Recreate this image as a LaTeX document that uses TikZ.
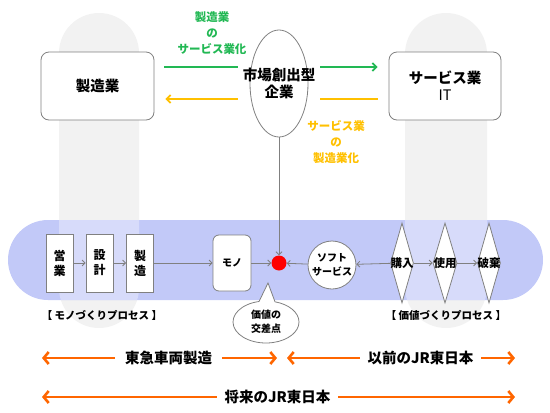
\documentclass[tikz,border=0pt]{standalone}
\usepackage{fontspec}
\setmainfont{Noto Sans CJK JP}
\usepackage{tikz}
\usetikzlibrary{shapes.geometric,shapes.callouts,arrows.meta}
\definecolor{bandblue}{RGB}{194,201,248}
\definecolor{pillargray}{RGB}{242,242,242}
\definecolor{linegray}{RGB}{128,128,128}
\definecolor{grn}{RGB}{34,184,84}
\definecolor{ylw}{RGB}{255,192,0}
\definecolor{orng}{RGB}{255,102,0}

\begin{document}
\begin{tikzpicture}[x=1pt,y=-1pt,
	box/.style={draw=linegray,fill=white,line width=0.8pt,inner sep=0pt},
	tbig/.style={font=\bfseries\fontsize{14.5}{17}\selectfont,align=center},
	tmid/.style={font=\bfseries\fontsize{12}{15}\selectfont,align=center},
	tsmall/.style={font=\bfseries\fontsize{10}{14}\selectfont,align=center},
	gline/.style={draw=linegray,line width=0.8pt,>={Straight Barb[length=3pt,width=6pt]}},
	oline/.style={draw=orng,line width=2.6pt,>={Straight Barb[length=5pt,width=12pt]}}]
	\useasboundingbox (0,0) rectangle (550,413);
	%\draw[help lines,step=50] (0,0) grid (550,413);

	% pillars and band
	\fill[pillargray,rounded corners=40pt] (59,13) rectangle (139,328);
	\fill[pillargray,rounded corners=41pt] (405,13) rectangle (487,328);
	\fill[bandblue,rounded corners=40pt] (8,220) rectangle (543,300);
	\begin{scope}
		\clip[rounded corners=40pt] (8,220) rectangle (543,300);
		\fill[white,opacity=0.35,rounded corners=40pt] (59,13) rectangle (139,328);
		\fill[white,opacity=0.35,rounded corners=41pt] (405,13) rectangle (487,328);
	\end{scope}

	% upper part
	\node[box,rounded corners=8pt,minimum width=113pt,minimum height=68pt,tbig] (mfg) at (97.5,86) {製造業};
	\node[box,rounded corners=8pt,minimum width=112pt,minimum height=68pt,tbig] (svc) at (445,86) {サービス業\\{\mdseries IT}};
	\node[box,shape=ellipse,minimum width=58pt,minimum height=107pt] (market) at (279,83.5) {};
	\node[tbig] (marketlbl) at (market.center) {市場創出型\\企業};

	\draw[->,draw=grn,line width=1.8pt,>={Straight Barb[length=4pt,width=8pt]}]
		([shift={(10,-19)}]mfg.east) -- ([shift={(-12,-16.5)}]market.west)
		([shift={(12,-16.5)}]market.east) -- ([shift={(-11,-19)}]svc.west);
	\draw[->,draw=ylw,line width=1.8pt,>={Straight Barb[length=4pt,width=8pt]}]
		([shift={(-11,13)}]svc.west) -- ([shift={(12,15.5)}]market.east)
		([shift={(-12,15.5)}]market.west) -- ([shift={(11,13)}]mfg.east);
	\node[font=\bfseries\fontsize{11.5}{16}\selectfont,align=center,text=grn] (grntxt) at (212,33) {製造業\\の\\サービス業化};
	\node[font=\bfseries\fontsize{11.5}{16}\selectfont,align=center,text=ylw] (ylwtxt) at (336,142) {サービス業\\の\\製造業化};

	% process row
	\node[box,minimum width=27pt,minimum height=58pt,tmid] (eigyo) at (59.5,263) {営\\業};
	\node[box,minimum width=27pt,minimum height=58pt,tmid] (sekkei) at (99.5,263) {設\\計};
	\node[box,minimum width=27pt,minimum height=58pt,tmid] (seizo) at (140,263) {製\\造};
	\node[box,rounded corners=6pt,minimum width=38pt,minimum height=56pt,tsmall] (mono) at (232,263) {モノ};
	\node[shape=circle,fill=red,inner sep=0pt,minimum size=15pt] (dot) at (279,263) {};
	\node[box,shape=circle,minimum size=48pt,tsmall] (soft) at (332,265) {ソフト\\サービス};
	\node[box,shape=diamond,minimum width=23pt,minimum height=80pt] (buy) at (402,263) {};
	\node[box,shape=diamond,minimum width=24pt,minimum height=80pt] (use) at (445,263) {};
	\node[box,shape=diamond,minimum width=23pt,minimum height=80pt] (haki) at (489,263) {};
	\node[tmid,font=\bfseries\fontsize{11.5}{14}\selectfont] (buylbl) at (buy) {購入};
	\node[tmid,font=\bfseries\fontsize{11.5}{14}\selectfont] (uselbl) at (use) {使用};
	\node[tmid,font=\bfseries\fontsize{11.5}{14}\selectfont] (hakilbl) at (haki) {破棄};

	\draw[->,gline] (eigyo) -- (sekkei);
	\draw[->,gline] (sekkei) -- (seizo);
	\draw[->,gline] (seizo) -- (mono);
	\draw[->,gline] (mono) -- (dot);
	\draw[->,gline] (soft) -- (dot);
	\draw[->,gline] (buy) -- (soft);
	\draw[->,gline] (buy) -- (use);
	\draw[->,gline] (use) -- (haki);
	\draw[->,gline] (market.south) -- (dot.north);

	\node[tsmall,font=\bfseries\fontsize{10.5}{13}\selectfont] (monoproc) at (102,315) {【\ モノづくりプロセス\ 】};
	\node[tsmall,font=\bfseries\fontsize{10.5}{13}\selectfont] (kachiproc) at (446,315) {【\ 価値づくりプロセス\ 】};
	\coordinate (tip) at (268,283);
	\node[box,shape=ellipse callout,callout absolute pointer=(tip),callout pointer arc=28,
		minimum width=66pt,minimum height=42pt,tsmall] (cross) at (266,322) {価値の\\交差点};

	% lower arrows
	\coordinate (r1a) at (42,358);
	\coordinate (r1b) at (277,358);
	\coordinate (r1c) at (287,358);
	\coordinate (r1d) at (515,358);
	\coordinate (r2a) at (42,397);
	\coordinate (r2b) at (515,397);
	\node[tbig,inner sep=0pt,minimum width=107pt] (tokyu) at (168.5,358) {東急車両製造};
	\node[tbig,inner sep=0pt,minimum width=121pt] (jrold) at (420.5,358) {以前のJR東日本};
	\node[tbig,inner sep=0pt,minimum width=121pt] (jrnew) at (277.5,397) {将来のJR東日本};
	\draw[->,oline] (tokyu) -- (r1a);
	\draw[->,oline] (tokyu) -- (r1b);
	\draw[->,oline] (jrold) -- (r1c);
	\draw[->,oline] (jrold) -- (r1d);
	\draw[->,oline] (jrnew) -- (r2a);
	\draw[->,oline] (jrnew) -- (r2b);

\end{tikzpicture}
\end{document}
